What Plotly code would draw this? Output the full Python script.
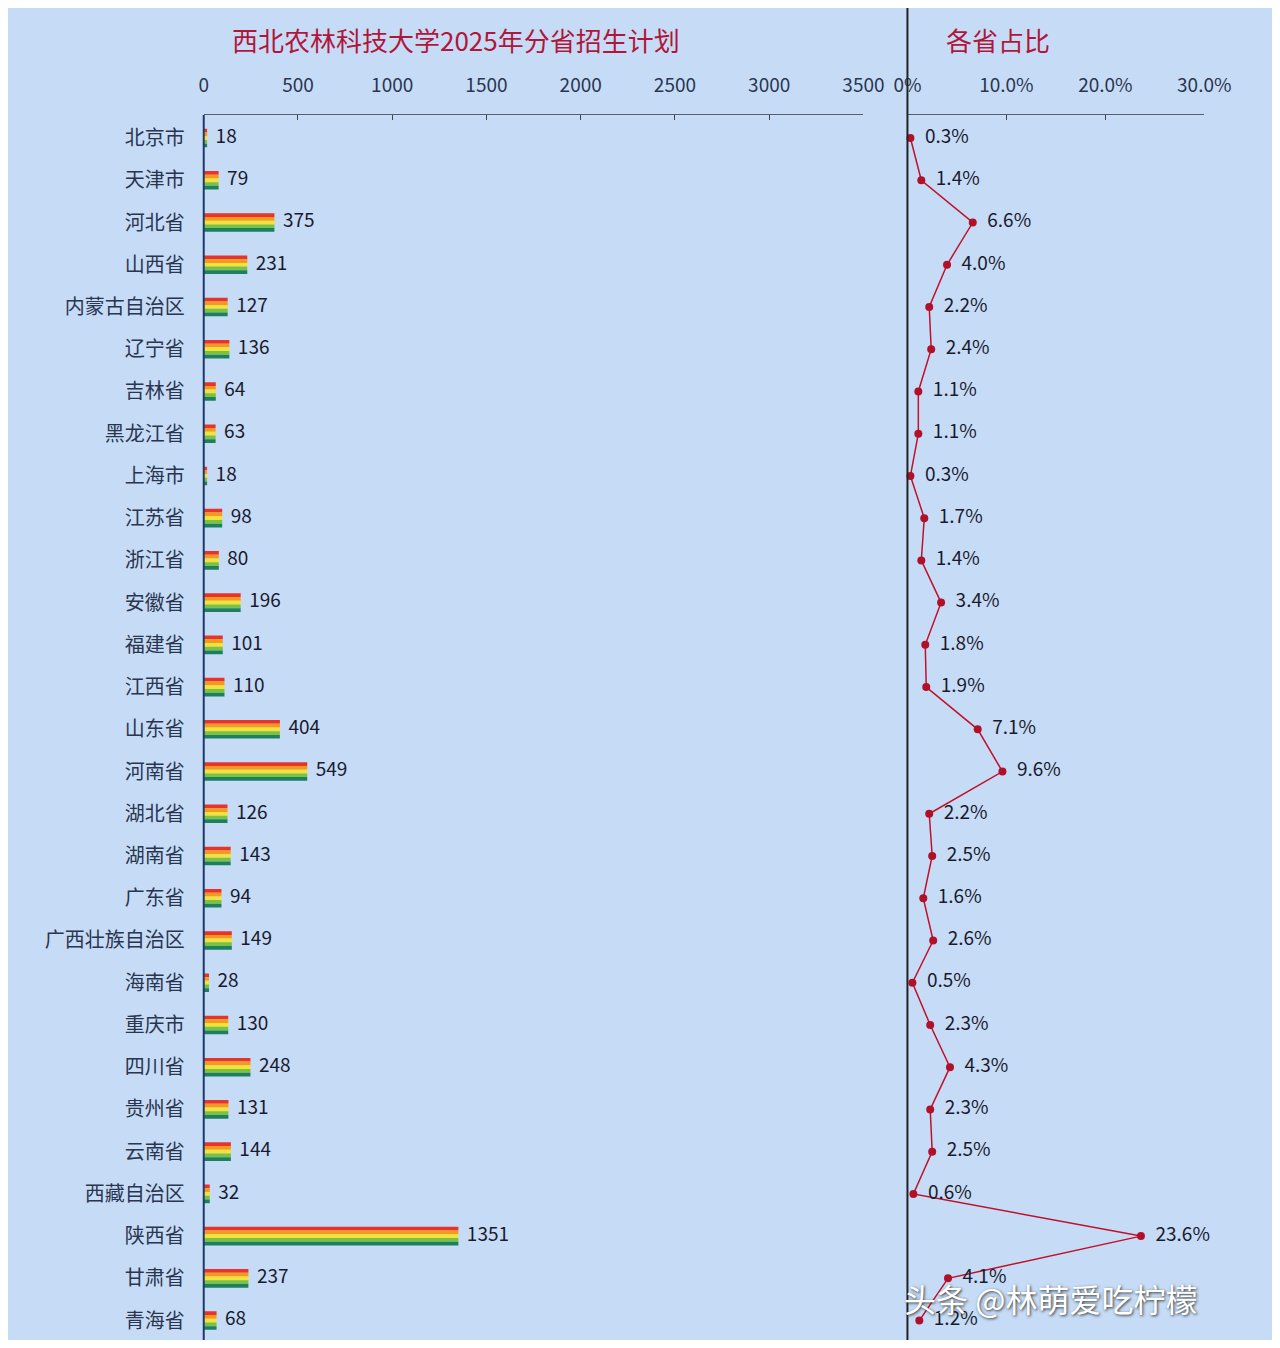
import plotly.graph_objects as go

provinces = ["北京市", "天津市", "河北省", "山西省", "内蒙古自治区", "辽宁省", "吉林省", "黑龙江省",
             "上海市", "江苏省", "浙江省", "安徽省", "福建省", "江西省", "山东省", "河南省",
             "湖北省", "湖南省", "广东省", "广西壮族自治区", "海南省", "重庆市", "四川省", "贵州省",
             "云南省", "西藏自治区", "陕西省", "甘肃省", "青海省"]
plan = [18, 79, 375, 231, 127, 136, 64, 63, 18, 98, 80, 196, 101, 110, 404, 549,
        126, 143, 94, 149, 28, 130, 248, 131, 144, 32, 1351, 237, 68]
share = [0.3, 1.4, 6.6, 4.0, 2.2, 2.4, 1.1, 1.1, 0.3, 1.7, 1.4, 3.4, 1.8, 1.9, 7.1, 9.6,
         2.2, 2.5, 1.6, 2.6, 0.5, 2.3, 4.3, 2.3, 2.5, 0.6, 23.6, 4.1, 1.2]
x_ticks = [0, 500, 1000, 1500, 2000, 2500, 3000, 3500]
pct_ticks = [0, 10, 20, 30]
pct_labels = ["0%", "10.0%", "20.0%", "30.0%"]

rows = list(range(len(provinces)))
stripes = ["#e8322a", "#f39a1e", "#f2e23a", "#7cc242", "#1d7f5f"]
font = "Noto Sans CJK SC"

fig = go.Figure()

# rainbow bars drawn as thin stacked stripes
sw = 0.088
for k, c in enumerate(stripes):
    fig.add_trace(go.Bar(
        y=rows, x=plan, orientation="h", marker=dict(color=c, line=dict(width=0)),
        width=sw, offset=-0.22 + k * sw, showlegend=False, hoverinfo="skip"))

fig.add_trace(go.Scatter(
    x=plan, y=rows, mode="text", text=["  " + str(v) for v in plan],
    textposition="middle right", textfont=dict(size=19, color="#1a1a2e", family=font),
    cliponaxis=False, showlegend=False))

fig.add_trace(go.Scatter(
    x=share, y=rows, xaxis="x2", mode="lines+markers+text",
    text=["  %.1f%%" % v for v in share], textposition="middle right",
    textfont=dict(size=19, color="#1a1a2e", family=font), cliponaxis=False,
    line=dict(color="#c0102a", width=1.5), marker=dict(color="#b0102a", size=8),
    showlegend=False))

fig.update_layout(
    width=1264, height=1332, margin=dict(l=0, r=0, t=0, b=0),
    paper_bgcolor="#c6dcf6", plot_bgcolor="#c6dcf6", barmode="overlay",
    font=dict(family=font, color="#2a3550"),
    xaxis=dict(domain=[0.1486, 0.688], side="top", range=[0, 3500], tickvals=x_ticks,
               showgrid=False, showline=True, linecolor="#556070", ticks="inside",
               ticklen=5, tickfont=dict(size=19, color="#2a3550"), zeroline=False,
               ticklabelstandoff=14),
    xaxis2=dict(domain=[0.724, 0.9667], side="top", range=[0, 30], tickvals=pct_ticks,
                ticktext=pct_labels, anchor="y", showgrid=False, showline=True,
                linecolor="#556070", ticks="inside", ticklen=5,
                tickfont=dict(size=19, color="#2a3550"), zeroline=False,
                ticklabelstandoff=14),
    yaxis=dict(domain=[0, 0.9197], range=[28.46, -0.547], tickvals=rows, ticktext=provinces,
               showgrid=False, zeroline=False, showline=False,
               tickfont=dict(size=20, color="#2a3550"), ticklabelstandoff=18),
)

fig.add_shape(type="line", xref="paper", yref="paper", x0=0.1486, x1=0.1486, y0=0, y1=0.9197,
              line=dict(color="#1f3a6a", width=2))
fig.add_shape(type="line", xref="paper", yref="paper", x0=0.724, x1=0.724, y0=0, y1=1,
              line=dict(color="#222222", width=2))

fig.add_annotation(text="西北农林科技大学2025年分省招生计划", xref="paper", yref="paper",
                   x=0.3545, y=0.992, showarrow=False, font=dict(size=26, color="#b0163a"))
fig.add_annotation(text="各省占比", xref="paper", yref="paper",
                   x=0.8425, y=0.992, showarrow=False, font=dict(size=26, color="#b0163a"))
fig.add_annotation(text="头条 @林萌爱吃柠檬", xref="paper", yref="paper",
                   x=0.962, y=0.0125, showarrow=False,
                   font=dict(size=32, color="white", shadow="1px 1px 3px #333"))

fig.write_html("out.html")
